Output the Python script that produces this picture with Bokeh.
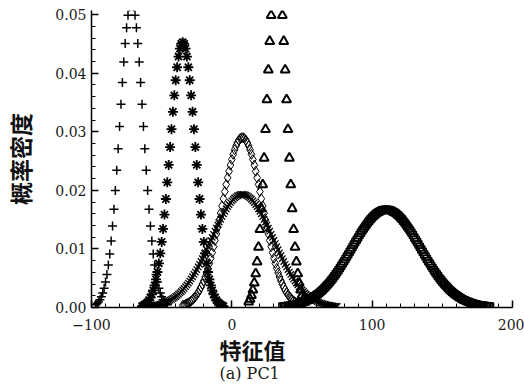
from bokeh.plotting import figure
from bokeh.models import Title, FixedTicker, PrintfTickFormatter
from bokeh.embed import file_html
from bokeh.resources import INLINE

x_plus = [-97, -96, -95, -94, -93, -92, -91, -90, -89, -88, -87, -86, -85, -84, -83, -82, -81, -80,
          -79, -78, -77, -76, -75, -74, -73, -72, -71, -70, -69, -68, -67, -66, -65, -64, -63, -62,
          -61, -60, -59, -58, -57, -56, -55, -54, -53, -52, -51, -50, -49, -48, -47, -46]
y_plus = [0.00047, 0.00067, 0.00095, 0.00132, 0.00182, 0.00247, 0.00330, 0.00435, 0.00565, 0.00724,
          0.00913, 0.01135, 0.01391, 0.01679, 0.01999, 0.02345, 0.02711, 0.03090, 0.03470, 0.03841,
          0.04191, 0.04507, 0.04776, 0.04988, 0.05135, 0.05211, 0.05211, 0.05135, 0.04988, 0.04776,
          0.04507, 0.04191, 0.03841, 0.03470, 0.03090, 0.02711, 0.02345, 0.01999, 0.01679, 0.01391,
          0.01135, 0.00913, 0.00724, 0.00565, 0.00435, 0.00330, 0.00247, 0.00182, 0.00132, 0.00095,
          0.00067, 0.00047]

x_star = [-64, -63, -62, -61, -60, -59, -58, -57, -56, -55, -54, -53, -52, -51, -50, -49, -48, -47,
          -46, -45, -44, -43, -42, -41, -40, -39, -38, -37, -36, -35, -34, -33, -32, -31, -30, -29,
          -28, -27, -26, -25, -24, -23, -22, -21, -20, -19, -18, -17, -16, -15, -14, -13, -12, -11,
          -10, -9, -8, -7, -6]
y_star = [0.00024, 0.00035, 0.00049, 0.00068, 0.00093, 0.00127, 0.00170, 0.00224, 0.00293, 0.00378,
          0.00481, 0.00606, 0.00753, 0.00924, 0.01120, 0.01341, 0.01586, 0.01852, 0.02137, 0.02434,
          0.02739, 0.03044, 0.03341, 0.03622, 0.03879, 0.04101, 0.04284, 0.04419, 0.04502, 0.04530,
          0.04502, 0.04419, 0.04284, 0.04101, 0.03879, 0.03622, 0.03341, 0.03044, 0.02739, 0.02434,
          0.02137, 0.01852, 0.01586, 0.01341, 0.01120, 0.00924, 0.00753, 0.00606, 0.00481, 0.00378,
          0.00293, 0.00224, 0.00170, 0.00127, 0.00093, 0.00068, 0.00049, 0.00035, 0.00024]

x_diam = [-35, -34, -33, -32, -31, -30, -29, -28, -27, -26, -25, -24, -23, -22, -21, -20, -19, -18,
          -17, -16, -15, -14, -13, -12, -11, -10, -9, -8, -7, -6, -5, -4, -3, -2, -1, 0, 1, 2, 3, 4,
          5, 6, 7, 8, 9, 10, 11, 12, 13, 14, 15, 16, 17, 18, 19, 20, 21, 22, 23, 24, 25, 26, 27, 28,
          29, 30, 31, 32, 33, 34, 35, 36, 37, 38, 39, 40, 41, 42, 43, 44, 45, 46, 47, 48, 49, 50]
y_diam = [0.00035, 0.00043, 0.00053, 0.00064, 0.00077, 0.00093, 0.00112, 0.00133, 0.00158, 0.00187,
          0.00219, 0.00256, 0.00298, 0.00345, 0.00398, 0.00456, 0.00521, 0.00592, 0.00668, 0.00752,
          0.00841, 0.00937, 0.01038, 0.01145, 0.01256, 0.01372, 0.01490, 0.01612, 0.01734, 0.01857,
          0.01979, 0.02099, 0.02215, 0.02326, 0.02430, 0.02527, 0.02615, 0.02693, 0.02760, 0.02814,
          0.02856, 0.02884, 0.02898,
          0.02898, 0.02884, 0.02856, 0.02814, 0.02760, 0.02693, 0.02615, 0.02527, 0.02430, 0.02326,
          0.02215, 0.02099, 0.01979, 0.01857, 0.01734, 0.01612, 0.01490, 0.01372, 0.01256, 0.01145,
          0.01038, 0.00937, 0.00841, 0.00752, 0.00668, 0.00592, 0.00521, 0.00456, 0.00398, 0.00345,
          0.00298, 0.00256, 0.00219, 0.00187, 0.00158, 0.00133, 0.00112, 0.00093, 0.00077, 0.00064,
          0.00053, 0.00043, 0.00035]

x_wide = [-60, -59, -58, -57, -56, -55, -54, -53, -52, -51, -50, -49, -48, -47, -46, -45, -44, -43,
          -42, -41, -40, -39, -38, -37, -36, -35, -34, -33, -32, -31, -30, -29, -28, -27, -26, -25,
          -24, -23, -22, -21, -20, -19, -18, -17, -16, -15, -14, -13, -12, -11, -10, -9, -8, -7, -6,
          -5, -4, -3, -2, -1, 0, 1, 2, 3, 4, 5, 6, 7, 8, 9, 10, 11, 12, 13, 14, 15, 16, 17, 18, 19,
          20, 21, 22, 23, 24, 25, 26, 27, 28, 29, 30, 31, 32, 33, 34, 35, 36, 37, 38, 39, 40, 41, 42,
          43, 44, 45, 46, 47, 48, 49, 50, 51, 52, 53, 54, 55, 56, 57, 58, 59, 60, 61, 62, 63, 64, 65,
          66, 67, 68, 69, 70, 71, 72, 73, 74, 75]
y_wide = [0.00017, 0.00020, 0.00023, 0.00026, 0.00030, 0.00034, 0.00039, 0.00044, 0.00050, 0.00056,
          0.00063, 0.00071, 0.00080, 0.00090, 0.00100, 0.00112, 0.00125, 0.00138, 0.00154, 0.00170,
          0.00188, 0.00207, 0.00227, 0.00250, 0.00273, 0.00299, 0.00326, 0.00355, 0.00385, 0.00417,
          0.00451, 0.00487, 0.00525, 0.00564, 0.00605, 0.00648, 0.00692, 0.00738, 0.00785, 0.00834,
          0.00884, 0.00934, 0.00986, 0.01038, 0.01091, 0.01144, 0.01197, 0.01250, 0.01303, 0.01355,
          0.01407, 0.01457, 0.01506, 0.01553, 0.01599, 0.01642, 0.01684, 0.01722, 0.01758, 0.01791,
          0.01821, 0.01848, 0.01871, 0.01890, 0.01906, 0.01918, 0.01926, 0.01930,
          0.01930, 0.01926, 0.01918, 0.01906, 0.01890, 0.01871, 0.01848, 0.01821, 0.01791, 0.01758,
          0.01722, 0.01684, 0.01642, 0.01599, 0.01553, 0.01506, 0.01457, 0.01407, 0.01355, 0.01303,
          0.01250, 0.01197, 0.01144, 0.01091, 0.01038, 0.00986, 0.00934, 0.00884, 0.00834, 0.00785,
          0.00738, 0.00692, 0.00648, 0.00605, 0.00564, 0.00525, 0.00487, 0.00451, 0.00417, 0.00385,
          0.00355, 0.00326, 0.00299, 0.00273, 0.00250, 0.00227, 0.00207, 0.00188, 0.00170, 0.00154,
          0.00138, 0.00125, 0.00112, 0.00100, 0.00090, 0.00080, 0.00071, 0.00063, 0.00056, 0.00050,
          0.00044, 0.00039, 0.00034, 0.00030, 0.00026, 0.00023, 0.00020, 0.00017]

x_tri = [12, 13, 14, 15, 16, 17, 18, 19, 20, 21, 22, 23, 24, 25, 26, 27, 28, 29, 30, 31, 32, 33, 34,
         35, 36, 37, 38, 39, 40, 41, 42, 43, 44, 45, 46, 47, 48, 49, 50, 51, 52]
y_tri = [0.00095, 0.00142, 0.00208, 0.00299, 0.00420, 0.00578, 0.00780, 0.01030, 0.01332, 0.01689,
         0.02097, 0.02551, 0.03040, 0.03548, 0.04057, 0.04544, 0.04986, 0.05359, 0.05642, 0.05820,
         0.05880,
         0.05820, 0.05642, 0.05359, 0.04986, 0.04544, 0.04057, 0.03548, 0.03040, 0.02551, 0.02097,
         0.01689, 0.01332, 0.01030, 0.00780, 0.00578, 0.00420, 0.00299, 0.00208, 0.00142, 0.00095]

x_sq = [36, 37, 38, 39, 40, 41, 42, 43, 44, 45, 46, 47, 48, 49, 50, 51, 52, 53, 54, 55, 56, 57, 58,
        59, 60, 61, 62, 63, 64, 65, 66, 67, 68, 69, 70, 71, 72, 73, 74, 75, 76, 77, 78, 79, 80, 81,
        82, 83, 84, 85, 86, 87, 88, 89, 90, 91, 92, 93, 94, 95, 96, 97, 98, 99, 100, 101, 102, 103,
        104, 105, 106, 107, 108, 109, 110, 111, 112, 113, 114, 115, 116, 117, 118, 119, 120, 121,
        122, 123, 124, 125, 126, 127, 128, 129, 130, 131, 132, 133, 134, 135, 136, 137, 138, 139,
        140, 141, 142, 143, 144, 145, 146, 147, 148, 149, 150, 151, 152, 153, 154, 155, 156, 157,
        158, 159, 160, 161, 162, 163, 164, 165, 166, 167, 168, 169, 170, 171, 172, 173, 174, 175,
        176, 177, 178, 179, 180, 181, 182, 183, 184]
y_sq = [0.00017, 0.00020, 0.00022, 0.00025, 0.00028, 0.00032, 0.00035, 0.00040, 0.00044, 0.00049,
        0.00055, 0.00061, 0.00068, 0.00075, 0.00083, 0.00092, 0.00101, 0.00111, 0.00122, 0.00134,
        0.00147, 0.00161, 0.00175, 0.00191, 0.00208, 0.00226, 0.00245, 0.00265, 0.00286, 0.00309,
        0.00333, 0.00358, 0.00384, 0.00411, 0.00440, 0.00470, 0.00501, 0.00534, 0.00567, 0.00602,
        0.00637, 0.00674, 0.00711, 0.00750, 0.00789, 0.00829, 0.00869, 0.00910, 0.00951, 0.00992,
        0.01033, 0.01075, 0.01116, 0.01156, 0.01197, 0.01236, 0.01275, 0.01313, 0.01349, 0.01384,
        0.01418, 0.01451, 0.01481, 0.01510, 0.01536, 0.01561, 0.01583, 0.01603, 0.01621, 0.01636,
        0.01648, 0.01658, 0.01664, 0.01669,
        0.01670,
        0.01669, 0.01664, 0.01658, 0.01648, 0.01636, 0.01621, 0.01603, 0.01583, 0.01561, 0.01536,
        0.01510, 0.01481, 0.01451, 0.01418, 0.01384, 0.01349, 0.01313, 0.01275, 0.01236, 0.01197,
        0.01156, 0.01116, 0.01075, 0.01033, 0.00992, 0.00951, 0.00910, 0.00869, 0.00829, 0.00789,
        0.00750, 0.00711, 0.00674, 0.00637, 0.00602, 0.00567, 0.00534, 0.00501, 0.00470, 0.00440,
        0.00411, 0.00384, 0.00358, 0.00333, 0.00309, 0.00286, 0.00265, 0.00245, 0.00226, 0.00208,
        0.00191, 0.00175, 0.00161, 0.00147, 0.00134, 0.00122, 0.00111, 0.00101, 0.00092, 0.00083,
        0.00075, 0.00068, 0.00061, 0.00055, 0.00049, 0.00044, 0.00040, 0.00035, 0.00032, 0.00028,
        0.00025, 0.00022, 0.00020, 0.00017]

x_ticks = [-100, 0, 100, 200]
y_ticks = [0.0, 0.01, 0.02, 0.03, 0.04, 0.05]
x_title = "特征值"
y_title = "概率密度"
caption = "(a)  PC1"

# ---- figure ----
p = figure(width=524, height=388, x_range=(-100, 200), y_range=(0, 0.0507),
           output_backend="svg", toolbar_location=None,
           min_border_left=77, min_border_right=12, min_border_top=10, min_border_bottom=81)
p.outline_line_color = None
p.xgrid.visible = False
p.ygrid.visible = False
p.background_fill_color = "white"
p.border_fill_color = "white"

ink = "#000000"
p.scatter(x_wide, y_wide, marker="x", size=9, line_color=ink, line_width=1.3)
p.scatter(x_diam, y_diam, marker="diamond", size=10, line_color=ink, fill_color=None, line_width=1)
p.scatter(x_sq, y_sq, marker="square", size=7, line_color=ink, fill_color=None, line_width=1.5)
p.scatter(x_star, y_star, marker="asterisk", size=10, line_color=ink, line_width=1.8)
p.scatter(x_plus, y_plus, marker="cross", size=9, line_color=ink, line_width=1.5)
p.scatter(x_tri, y_tri, marker="triangle", size=9, line_color=ink, fill_color=None, line_width=2)

serif = "DejaVu Serif"
xa = p.xaxis[0]
xa.ticker = FixedTicker(ticks=x_ticks, minor_ticks=[v for v in range(-100, 201, 10)])
xa.major_label_overrides = {-100: "\u2212100"}
ya = p.yaxis[0]
ya.ticker = FixedTicker(ticks=y_ticks, minor_ticks=[i * 0.002 for i in range(26)])
ya.formatter = PrintfTickFormatter(format="%.2f")
for ax in (xa, ya):
    ax.axis_line_color = "black"
    ax.axis_line_width = 1.5
    ax.major_tick_in = 7
    ax.major_tick_out = 0
    ax.minor_tick_in = 4
    ax.minor_tick_out = 0
    ax.major_tick_line_color = "black"
    ax.minor_tick_line_color = "black"
    ax.major_tick_line_width = 1.5
    ax.major_label_text_font = serif
    ax.major_label_text_font_size = "14px"
    ax.major_label_text_color = "#1a1a1a"
xa.major_label_standoff = 11
ya.major_label_standoff = 5

ya.axis_label = y_title
ya.axis_label_text_font = "Noto Sans CJK SC"
ya.axis_label_text_font_size = "23px"
ya.axis_label_text_font_style = "bold"
ya.axis_label_text_color = "#111111"
ya.axis_label_standoff = 15

p.add_layout(Title(text=x_title, align="left", offset=128, text_font="Noto Sans CJK SC",
                   text_font_size="22px", text_font_style="bold", text_color="#111111",
                   standoff=-3), "below")
p.add_layout(Title(text=caption, align="left", offset=128, text_font=serif,
                   text_font_size="16px", text_font_style="normal", text_color="#1a1a1a",
                   standoff=-3), "below")

open("out.html", "w").write(file_html(p, INLINE))
